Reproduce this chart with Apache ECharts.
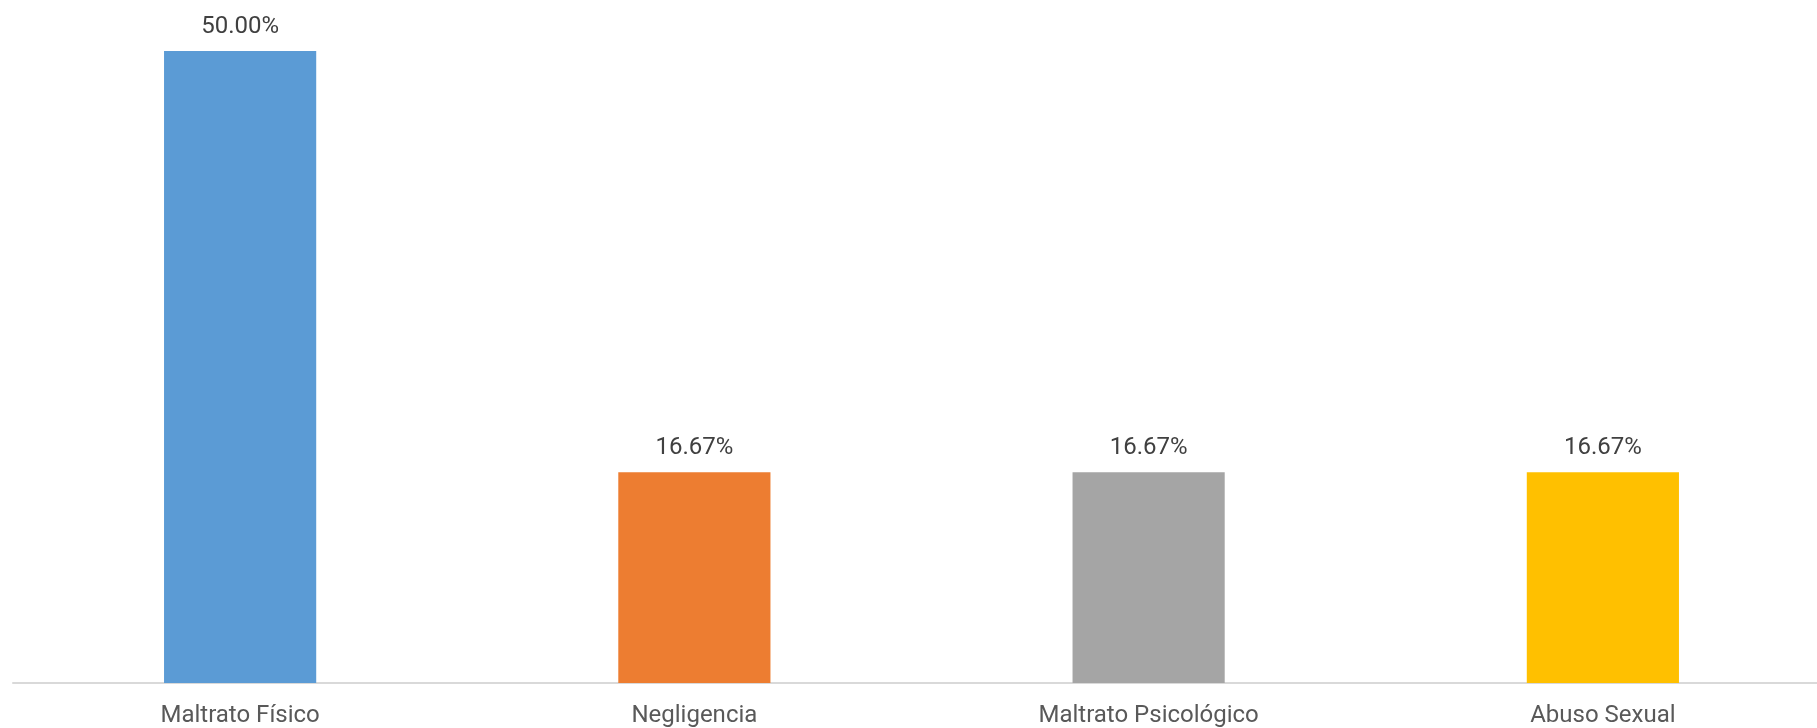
<!DOCTYPE html>
<html>
<head>
<meta charset="utf-8">
<script src="https://cdn.jsdelivr.net/npm/echarts@6/dist/echarts.min.js"></script>
<style>
html,body{margin:0;padding:0;background:#fff;overflow:hidden;}
#main{width:1830px;height:728px;}
</style>
</head>
<body>
<div id="main"></div>
<script>
const categories = ['Maltrato Físico', 'Negligencia', 'Maltrato Psicológico', 'Abuso Sexual'];
const values = [50.00, 16.67, 16.67, 16.67];
const colors = ['#5B9BD5', '#ED7D31', '#A5A5A5', '#FFC000'];

const chart = echarts.init(document.getElementById('main'));
chart.setOption({
  animation: false,
  backgroundColor: '#ffffff',
  grid: { left: 13, top: 51, right: 0, bottom: 44, containLabel: false },
  xAxis: {
    type: 'category',
    data: categories,
    axisLine: { show: true, lineStyle: { color: '#D9D9D9', width: 2 } },
    axisTick: { show: false },
    axisLabel: { color: '#595959', fontSize: 24, fontFamily: 'Roboto', margin: 21 }
  },
  yAxis: {
    type: 'value',
    min: 0,
    max: 50,
    show: false,
    splitLine: { show: false }
  },
  series: [{
    type: 'bar',
    barWidth: '33.5%',
    data: values.map((v, i) => ({ value: v, itemStyle: { color: colors[i] } })),
    label: {
      show: true,
      position: 'top',
      distance: 12,
      color: '#404040',
      fontSize: 24,
      fontFamily: 'Roboto',
      formatter: p => p.value.toFixed(2) + '%'
    }
  }]
});
</script>
</body>
</html>
